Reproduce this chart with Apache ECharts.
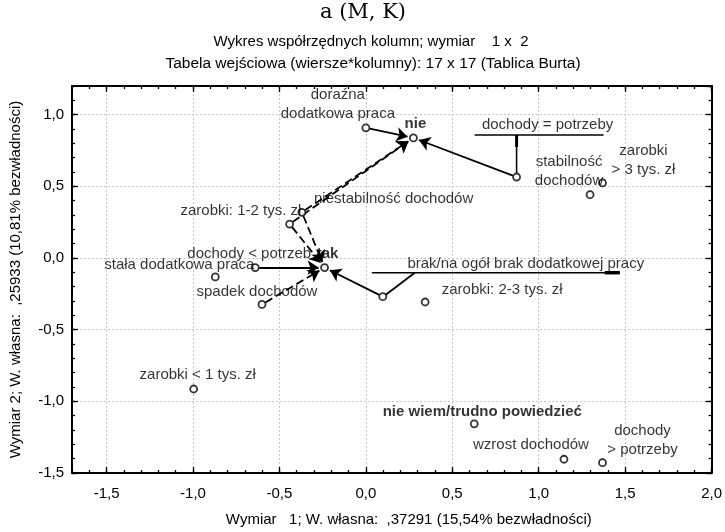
<!DOCTYPE html>
<html><head><meta charset="utf-8">
<script src="https://cdn.jsdelivr.net/npm/echarts@6/dist/echarts.min.js"></script>
<style>html,body{margin:0;padding:0;background:#fff}#c{width:725px;height:532px}</style>
</head><body><div id="c"></div>
<script>
// ---- data ----
const names = ['doraźna\ndodatkowa praca','nie','dochody = potrzeby','zarobki\n> 3 tys. zł','stabilność\ndochodów',
  'niestabilność dochodów','zarobki: 1-2 tys. zł','dochody < potrzeb','tak','stała dodatkowa praca','spadek dochodów',
  'brak/na ogół brak dodatkowej pracy','zarobki: 2-3 tys. zł','zarobki < 1 tys. zł','nie wiem/trudno powiedzieć',
  'wzrost dochodów','dochody\n> potrzeby'];
const dim1 = [0.00, 0.275, 0.872, 1.369, 1.297, -0.441, -0.370, -0.640, -0.239, -0.871, -0.601, 0.098, 0.343, -0.996, 0.627, 1.146, 1.369];
const dim2 = [0.908, 0.838, 0.565, 0.524, 0.442, 0.237, 0.319, -0.067, -0.067, -0.132, -0.324, -0.270, -0.307, -0.914, -1.157, -1.404, -1.428];
const columnPoints = ['nie','tak','nie wiem/trudno powiedzieć'];
const solidArrows = [[0,1],[2,1],[7,8],[11,8]];
const dashedArrows = [[5,1],[6,1],[5,8],[6,8],[10,8]];
const xTicks = [-1.5,-1.0,-0.5,0.0,0.5,1.0,1.5,2.0];
const xName = 'Wymiar   1; W. własna:  ,37291 (15,54% bezwładności)';
const yName = 'Wymiar 2; W. własna:  ,25933 (10,81% bezwładności)';
const title1 = 'a (M, K)';
const title2 = 'Wykres współrzędnych kolumn; wymiar    1 x  2';
const title3 = 'Tabela wejściowa (wiersze*kolumny): 17 x 17 (Tablica Burta)';

// ---- layout (pixels) ----
const labelOffsets = [[-28,-23],[2,-14],[31,-52],[41,-23],[-21,-23],[104,-25],[-61,-1],[-6,-14],[3,-14],[-36,-12],[-5,-13],[143,-33],[77,-12],[4,-14],[8,-12],[-33,-14],[40,-22]];
const callouts = [
  {idx:2, segs:[[[-42,-42],[87,-42],1.5],[[0,-4],[0,-42],1.5],[[0,-42],[0,-30],3]]},
  {idx:11, segs:[[[-11,-24],[237,-24],1.5],[[3,-2],[32,-24],1.8],[[222,-24],[237,-24],3.5]]}
];

const FONT = '"Liberation Sans", Arial, sans-serif';
const FS = 15;
const fmt = v => (Math.round(v*10)/10).toFixed(1).replace('.', ',');
const xMin=-1.7, xMax=2.0, yMin=-1.5, yMax=1.2;

const chart = echarts.init(document.getElementById('c'));

const lineBlack = {color:'#000', width:2};
function xAx(pos, minor, main) {
  const o = {type:'value', position:pos, min:xMin, max:xMax, axisLine:{show:!minor, onZero:false, lineStyle:lineBlack},
    axisLabel:{show:false}, splitLine:{show:false},
    axisTick:{inside:true, length: minor?3:6, lineStyle:{color:'#000', width:1.3}}};
  if (minor) o.interval = 0.1; else o.axisTick.customValues = xTicks;
  if (main) {
    o.axisLabel = {show:true, customValues:xTicks, formatter:fmt, margin:13, color:'#000', fontSize:FS, fontFamily:FONT};
    o.splitLine = {show:true, lineStyle:{color:'#c8c8c8', type:[2,2], width:1}};
    o.name = xName; o.nameLocation='middle'; o.nameGap=39;
    o.nameTextStyle = {color:'#000', fontSize:FS, fontFamily:FONT, padding:[0,0,0,34]};
  }
  return o;
}
function yAx(pos, minor, main) {
  const o = {type:'value', position:pos, min:yMin, max:yMax, interval: minor?0.1:0.5,
    axisLine:{show:!minor, onZero:false, lineStyle:lineBlack},
    axisLabel:{show:false}, splitLine:{show:false},
    axisTick:{inside:true, length: minor?3:6, lineStyle:{color:'#000', width:1.3}}};
  if (main) {
    o.axisLabel = {show:true, formatter:fmt, margin:8, color:'#000', fontSize:FS, fontFamily:FONT, showMaxLabel:false};
    o.splitLine = {show:true, lineStyle:{color:'#c8c8c8', type:[2,2], width:1}};
    o.name = yName; o.nameLocation='middle'; o.nameGap=49;
    o.nameTextStyle = {color:'#000', fontSize:FS, fontFamily:FONT};
  }
  return o;
}

const baseOption = {
  animation:false,
  grid:{left:71, right:13, top:86, bottom:59, containLabel:false},
  xAxis:[xAx('bottom',false,true), xAx('bottom',true,false), xAx('top',false,false), xAx('top',true,false)],
  yAxis:[yAx('left',false,true), yAx('left',true,false), yAx('right',false,false), yAx('right',true,false)],
  series:[
    {type:'scatter', xAxisIndex:0, yAxisIndex:0, z:5, symbol:'circle', symbolSize:7,
      itemStyle:{color:'#fff', borderColor:'#000', borderWidth:1.8},
      emphasis:{disabled:true}, silent:true,
      label:{show:true, position:'inside', formatter:'{b}', color:'#000', fontSize:FS, fontFamily:FONT,
        lineHeight:19, align:'center', verticalAlign:'middle'},
      data: names.map((n,i)=>({name:n, value:[dim1[i],dim2[i]],
        label:{offset:labelOffsets[i], fontWeight: columnPoints.includes(n)?'bold':'normal'}}))
    },
    {type:'scatter', xAxisIndex:0, yAxisIndex:0, z:3, data:[], silent:true}
  ],
  graphic:[
    {type:'text', x:363, y:13, style:{text:title1, font:'21px "DejaVu Serif", serif', fill:'#000', align:'center', verticalAlign:'middle'}},
    {type:'text', x:371, y:42, style:{text:title2, font:'15px "Liberation Sans", Arial, sans-serif', fill:'#000', align:'center', verticalAlign:'middle'}},
    {type:'text', x:373, y:64, style:{text:title3, font:'15.5px "Liberation Sans", Arial, sans-serif', fill:'#000', align:'center', verticalAlign:'middle'}}
  ]
};
chart.setOption(baseOption);

// arrows and callouts, positioned through the chart's own scales
const toPx = i => chart.convertToPixel({xAxisIndex:0, yAxisIndex:0}, [dim1[i], dim2[i]]);
const toData = p => chart.convertFromPixel({xAxisIndex:0, yAxisIndex:0}, p);
const ARROW = 11, TIP = 6, START = 4;
function arrowItem(pair, dashed) {
  const a = toPx(pair[0]), b = toPx(pair[1]);
  const dx = b[0]-a[0], dy = b[1]-a[1], L = Math.hypot(dx,dy);
  const ux = dx/L, uy = dy/L;
  const s = [a[0]+ux*START, a[1]+uy*START];
  const e = [b[0]-ux*TIP, b[1]-uy*TIP];
  return [{coord:toData(s), lineStyle:{type: dashed?[8,4]:'solid'}}, {coord:toData(e)}];
}
const mlData = solidArrows.map(p=>arrowItem(p,false)).concat(dashedArrows.map(p=>arrowItem(p,true)));

const extraGraphics = [];
callouts.forEach(c => {
  const p = toPx(c.idx);
  c.segs.forEach(s => {
    extraGraphics.push({type:'line', z:4, shape:{x1:p[0]+s[0][0], y1:p[1]+s[0][1], x2:p[0]+s[1][0], y2:p[1]+s[1][1]},
      style:{stroke:'#000', lineWidth:s[2]}});
  });
});

chart.setOption({
  series:[{}, {markLine:{silent:true, symbol:['none','arrow'], symbolSize:ARROW, precision:6,
    label:{show:false}, itemStyle:{color:'#000'}, lineStyle:{color:'#000', width:1.8, type:'solid'}, emphasis:{disabled:true},
    data: mlData}}],
  graphic: baseOption.graphic.concat(extraGraphics)
});
</script></body></html>
